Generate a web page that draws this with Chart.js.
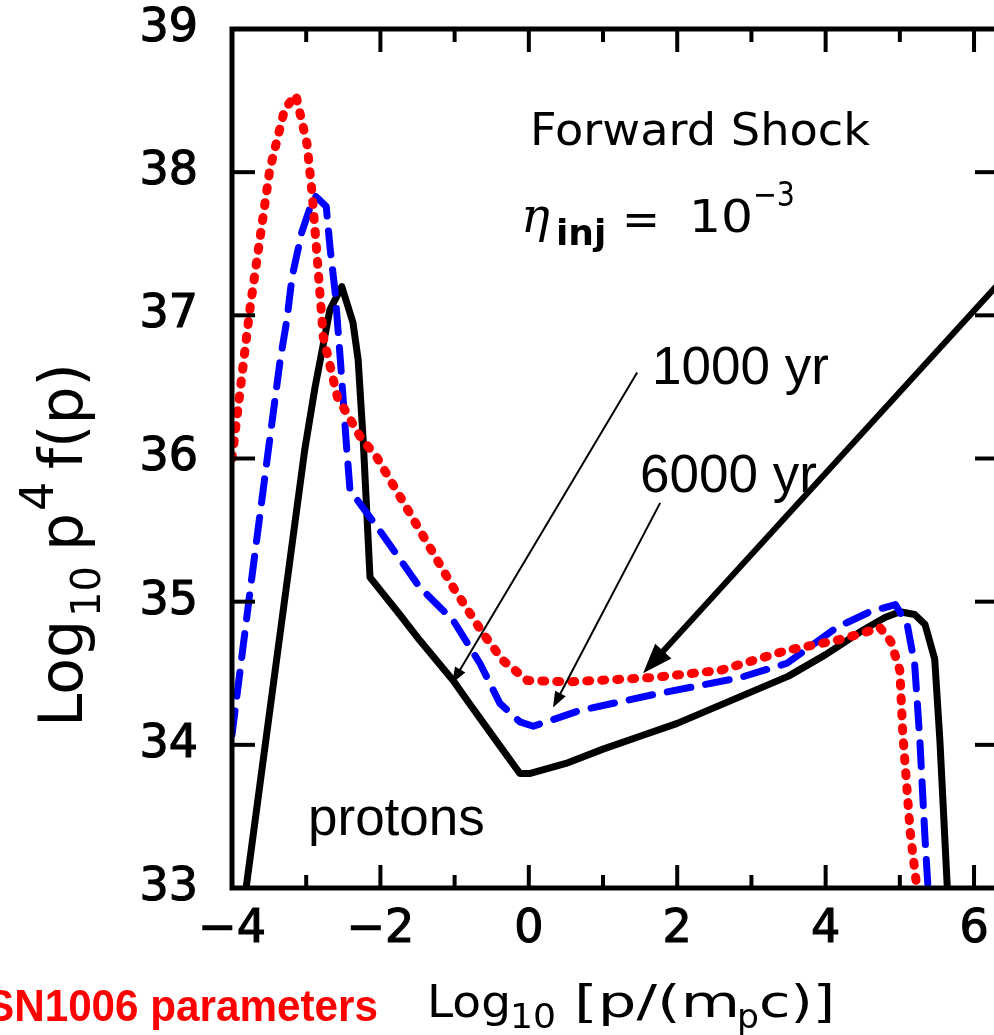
<!DOCTYPE html>
<html><head><meta charset="utf-8">
<script src="https://cdn.jsdelivr.net/npm/chart.js@4.4.1/dist/chart.umd.min.js"></script>
<style>html,body{margin:0;padding:0;background:#fff;overflow:hidden;width:994px;height:1035px}canvas{display:block}</style>
</head><body>
<canvas id="c" width="1010" height="1035" style="width:1010px;height:1035px"></canvas>
<script>
// ---- tick values / labels ----
const xTickValues = [-4, -2, 0, 2, 4, 6];
const xTickLabels = ['\u22124', '\u22122', '0', '2', '4', '6'];
const yTickValues = [33, 34, 35, 36, 37, 38, 39];
const yTickLabels = ['33', '34', '35', '36', '37', '38', '39'];

// ---- series: 1000 yr (black solid) ----
const yr1000X = [-3.94, -3.81, -3.40, -3.02, -2.88, -2.68, -2.52, -2.37, -2.30, -2.23, -2.14, -1.74, -1.47, -1.02, -0.83, -0.40, -0.12, 0.02, 0.5, 1.0, 1.5, 2.0, 2.5, 3.0, 3.5, 4.0, 4.5, 4.8, 5.0, 5.2, 5.34, 5.47, 5.54, 5.64, 5.67];
const yr1000Y = [32.5, 33.0, 34.59, 36.06, 36.5, 37.04, 37.20, 36.95, 36.69, 36.11, 35.17, 34.91, 34.73, 34.45, 34.31, 34.0, 33.80, 33.80, 33.87, 33.97, 34.06, 34.15, 34.26, 34.37, 34.48, 34.63, 34.80, 34.89, 34.93, 34.91, 34.84, 34.60, 34.03, 33.0, 32.6];

// ---- series: 6000 yr (blue dashed) ----
const yr6000X = [-4.0, -3.75, -3.51, -3.35, -3.26, -3.19, -3.06, -2.95, -2.87, -2.73, -2.68, -2.61, -2.54, -2.46, -2.41, -2.0, -1.47, -1.02, -0.66, -0.39, -0.12, 0.06, 0.69, 1.67, 2.85, 3.48, 4.15, 4.6, 4.94, 5.1, 5.2, 5.27, 5.34, 5.38, 5.40];
const yr6000Y = [34.07, 35.1, 36.06, 36.69, 36.97, 37.27, 37.58, 37.75, 37.83, 37.76, 37.48, 37.16, 36.69, 36.11, 35.78, 35.49, 35.10, 34.87, 34.57, 34.29, 34.16, 34.13, 34.24, 34.35, 34.47, 34.57, 34.82, 34.93, 34.98, 34.84, 34.56, 34.03, 33.34, 33.0, 32.7];

// ---- series: third curve (red dotted, its label lies outside the frame) ----
const redX = [-4.0, -3.76, -3.49, -3.29, -3.14, -2.99, -2.92, -2.85, -2.77, -2.58, -2.27, -2.05, -1.47, -1.02, -0.62, -0.35, -0.02, 0.56, 1.67, 2.58, 3.48, 4.15, 4.5, 4.73, 4.88, 5.0, 5.04, 5.14, 5.23, 5.26];
const redY = [36.0, 37.04, 38.02, 38.44, 38.54, 38.2, 37.85, 37.39, 36.85, 36.43, 36.15, 36.01, 35.5, 35.1, 34.78, 34.59, 34.45, 34.44, 34.47, 34.52, 34.66, 34.73, 34.78, 34.82, 34.72, 34.52, 34.08, 33.39, 33.0, 32.8];

const pts = (xs, ys) => xs.map((x, i) => ({x: x, y: ys[i]}));

// annotation arrows in data coordinates: [x0,y0,x1(tip),y1(tip),lineWidth,headLen,headWidth]
const arrows = [
  [1.46, 36.60, -1.035, 34.43, 2, 16, 12],
  [1.77, 35.69, 0.326, 34.26, 2, 16, 12],
  [6.40, 37.26, 1.54, 34.50, 6, 30, 22]
];

const SANS = '"DejaVu Sans"';
const HELV = '"Liberation Sans", Arial, sans-serif';

function piece(ctx, text, x, y, font, color) {
  ctx.font = font; ctx.fillStyle = color || '#000';
  ctx.fillText(text, x, y);
}
function fitText(ctx, text, x, y, font, width) {
  ctx.font = font; ctx.fillStyle = '#000';
  const w = ctx.measureText(text).width;
  ctx.save(); ctx.translate(x, y); ctx.scale(width / w, 1);
  ctx.fillText(text, 0, 0); ctx.restore();
}

const framePlugin = {
  id: 'frame',
  afterDraw(chart) {
    const ctx = chart.ctx, a = chart.chartArea, xs = chart.scales.x, ys = chart.scales.y;
    ctx.save();
    ctx.strokeStyle = '#000'; ctx.lineWidth = 5; ctx.lineJoin = 'miter';
    ctx.strokeRect(a.left, a.top, a.right - a.left, a.bottom - a.top);
    ctx.lineWidth = 4; ctx.lineCap = 'butt';
    const seg = (x0, y0, x1, y1) => { ctx.beginPath(); ctx.moveTo(x0, y0); ctx.lineTo(x1, y1); ctx.stroke(); };
    xs.ticks.forEach(t => {
      if (!Number.isInteger(t.value) || t.value <= xs.min || t.value >= xs.max) return;
      const px = xs.getPixelForValue(t.value);
      const len = (t.value % 2 === 0) ? 23 : 13;
      seg(px, a.bottom, px, a.bottom - len);
      seg(px, a.top, px, a.top + len);
    });
    ys.ticks.forEach(t => {
      if (!Number.isInteger(t.value) || t.value <= ys.min || t.value >= ys.max) return;
      const py = ys.getPixelForValue(t.value);
      seg(a.left, py, a.left + 23, py);
      seg(a.right, py, a.right - 23, py);
    });
    ctx.fillStyle = '#000';
    arrows.forEach(([x0, y0, x1, y1, lw, hl, hw]) => {
      const p0x = xs.getPixelForValue(x0), p0y = ys.getPixelForValue(y0);
      const p1x = xs.getPixelForValue(x1), p1y = ys.getPixelForValue(y1);
      const dx = p1x - p0x, dy = p1y - p0y, L = Math.hypot(dx, dy);
      const ux = dx / L, uy = dy / L;
      const bx = p1x - ux * hl, by = p1y - uy * hl;
      ctx.lineWidth = lw; ctx.lineCap = 'butt';
      seg(p0x, p0y, bx + ux * 2, by + uy * 2);
      ctx.beginPath();
      ctx.moveTo(p1x, p1y);
      ctx.lineTo(bx - uy * hw / 2, by + ux * hw / 2);
      ctx.lineTo(bx + uy * hw / 2, by - ux * hw / 2);
      ctx.closePath(); ctx.fill();
    });
    ctx.textAlign = 'left'; ctx.textBaseline = 'alphabetic';
    fitText(ctx, 'Forward Shock', 530, 145, '45px ' + SANS, 340);
    piece(ctx, '\u03B7', 521, 232, 'italic 48px "DejaVu Serif"');
    piece(ctx, 'inj', 556, 245, 'bold 36px ' + SANS);
    fitText(ctx, '=', 622, 235, '46px ' + SANS, 38);
    fitText(ctx, '10', 689, 232, '45px ' + SANS, 64);
    fitText(ctx, '\u22123', 753, 206, '34px ' + SANS, 42);
    piece(ctx, '1000 yr', 652, 384, '53px ' + HELV);
    piece(ctx, '6000 yr', 640, 492, '53px ' + HELV);
    piece(ctx, 'protons', 308, 835, '53px ' + HELV);
    // x title
    fitText(ctx, 'Log', 427, 1017, '44px ' + SANS, 84);
    fitText(ctx, '10', 510, 1028, '34px ' + SANS, 46);
    fitText(ctx, '[p/(m', 574, 1017, '44px ' + SANS, 166);
    fitText(ctx, 'p', 737, 1028, '34px ' + SANS, 22);
    fitText(ctx, 'c)]', 759, 1017, '44px ' + SANS, 76);
    // y title (rotated)
    ctx.save();
    ctx.translate(82, 727); ctx.rotate(-Math.PI / 2);
    piece(ctx, 'Log', 0, 0, '60px ' + SANS);
    piece(ctx, '10', 110, 18, '40px ' + SANS);
    piece(ctx, 'p', 176, 0, '60px ' + SANS);
    piece(ctx, '4', 216, -29, '46px ' + SANS);
    piece(ctx, 'f(p)', 258, 0, '60px ' + SANS);
    ctx.restore();
    ctx.textAlign = 'right';
    ctx.font = 'bold 44px ' + HELV; ctx.fillStyle = '#ff0000';
    ctx.fillText('SN1006 parameters', 378, 1021, 392);
    ctx.restore();
  }
};

new Chart(document.getElementById('c'), {
  type: 'line',
  data: {
    datasets: [
      {label: 'red', data: pts(redX, redY), borderColor: '#ff0000', borderWidth: 9, borderDash: [3, 12], borderCapStyle: 'round', borderJoinStyle: 'round', pointRadius: 0, tension: 0, fill: false},
      {label: '6000 yr', data: pts(yr6000X, yr6000Y), borderColor: '#0000ff', borderWidth: 7, borderDash: [24, 15], borderCapStyle: 'round', borderJoinStyle: 'round', pointRadius: 0, tension: 0, fill: false},
      {label: '1000 yr', data: pts(yr1000X, yr1000Y), borderColor: '#000000', borderWidth: 7, borderJoinStyle: 'round', pointRadius: 0, tension: 0, fill: false}
    ]
  },
  options: {
    responsive: false,
    animation: false,
    devicePixelRatio: 1,
    layout: {padding: {left: 0, top: 29, right: 12, bottom: 0}},
    plugins: {legend: {display: false}, tooltip: {enabled: false}, title: {display: false}},
    scales: {
      x: {
        type: 'linear', min: -4, max: 6.323,
        grid: {display: false, drawTicks: false}, border: {display: false},
        afterFit: s => { s.height = 147; s.paddingLeft = 0; s.paddingRight = 0; },
        ticks: {
          stepSize: 1, includeBounds: false, autoSkip: false, maxRotation: 0, padding: 14,
          color: '#000', textStrokeColor: '#000', textStrokeWidth: 1.2, font: {family: 'DejaVu Sans', size: 46},
          callback: v => { const i = xTickValues.indexOf(v); return i >= 0 ? xTickLabels[i] : ''; }
        }
      },
      y: {
        type: 'linear', min: 33, max: 39,
        grid: {display: false, drawTicks: false}, border: {display: false},
        afterFit: s => { s.width = 232; s.paddingTop = 0; s.paddingBottom = 0; },
        ticks: {
          stepSize: 1, autoSkip: false, padding: 34,
          color: '#000', textStrokeColor: '#000', textStrokeWidth: 1.2, font: {family: 'DejaVu Sans', size: 46},
          callback: v => { const i = yTickValues.indexOf(v); return i >= 0 ? yTickLabels[i] : ''; }
        }
      }
    }
  },
  plugins: [framePlugin]
});
</script>
</body></html>
